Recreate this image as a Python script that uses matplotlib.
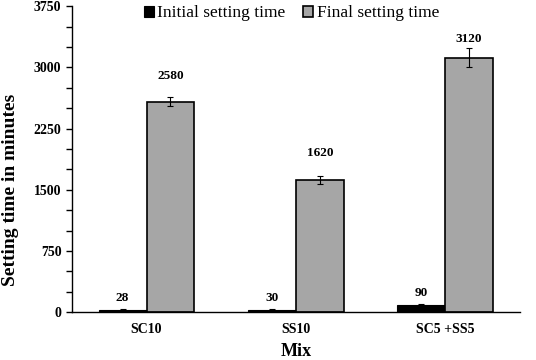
import matplotlib.pyplot as plt
import numpy as np
from matplotlib.ticker import MultipleLocator

mixes = ["SC10", "SS10", "SC5 +SS5"]
initial_time = [28, 30, 90]
initial_err = [5, 5, 8]
final_time = [2580, 1620, 3120]
final_err = [60, 45, 115]

# label gap above the final bars, in pixels (layout only)
final_label_gap = [20, 21, 13]

plt.rcParams["font.family"] = ["Liberation Serif"]

fig, ax = plt.subplots(figsize=(5.36, 3.6), dpi=100)
fig.subplots_adjust(left=0.134, right=0.97, top=0.983, bottom=0.133)

x = np.arange(len(mixes))
w = 0.32

ax.bar(x - w / 2, initial_time, w, color="black", edgecolor="black",
       linewidth=0.8, yerr=initial_err, capsize=2,
       error_kw=dict(elinewidth=0.8, capthick=0.8), label="Initial setting time")
ax.bar(x + w / 2, final_time, w, color="#a6a6a6", edgecolor="black",
       linewidth=1.2, yerr=final_err, capsize=2.5,
       error_kw=dict(elinewidth=0.8, capthick=0.8), label="Final setting time")

for i in range(len(mixes)):
    ax.annotate(str(initial_time[i]), (x[i] - w / 2, initial_time[i]),
                xytext=(0, 6), textcoords="offset pixels",
                ha="center", va="bottom", fontsize=9.5, fontweight="bold")
    ax.annotate(str(final_time[i]), (x[i] + w / 2, final_time[i]),
                xytext=(0, final_label_gap[i]), textcoords="offset pixels",
                ha="center", va="bottom", fontsize=9.5, fontweight="bold")

ax.set_xlim(-0.5, 2.5)
ax.set_ylim(0, 3750)
ax.yaxis.set_major_locator(MultipleLocator(750))
ax.yaxis.set_minor_locator(MultipleLocator(250))
ax.tick_params(axis="y", which="both", length=4, width=1, labelsize=10)
ax.tick_params(axis="x", length=0, labelsize=10, pad=8)
ax.set_xticks(x)
ax.set_xticklabels(mixes, fontweight="bold")
for lbl in ax.get_yticklabels():
    lbl.set_fontweight("bold")

ax.spines["top"].set_visible(False)
ax.spines["right"].set_visible(False)
ax.spines["left"].set_linewidth(1)
ax.spines["bottom"].set_linewidth(1)

ax.set_ylabel("Setting time in minutes", fontsize=14, fontweight="bold")
ax.yaxis.set_label_coords(-0.118, 0.40)
ax.set_xlabel("Mix", fontsize=13, fontweight="bold", labelpad=5)

ax.legend(loc="upper center", bbox_to_anchor=(0.49, 1.025), ncol=2, frameon=False,
          fontsize=12.5, handlelength=0.6, handleheight=0.6, handletextpad=0.2,
          columnspacing=1.0, borderaxespad=0)

fig.savefig("out.png", dpi=100)
